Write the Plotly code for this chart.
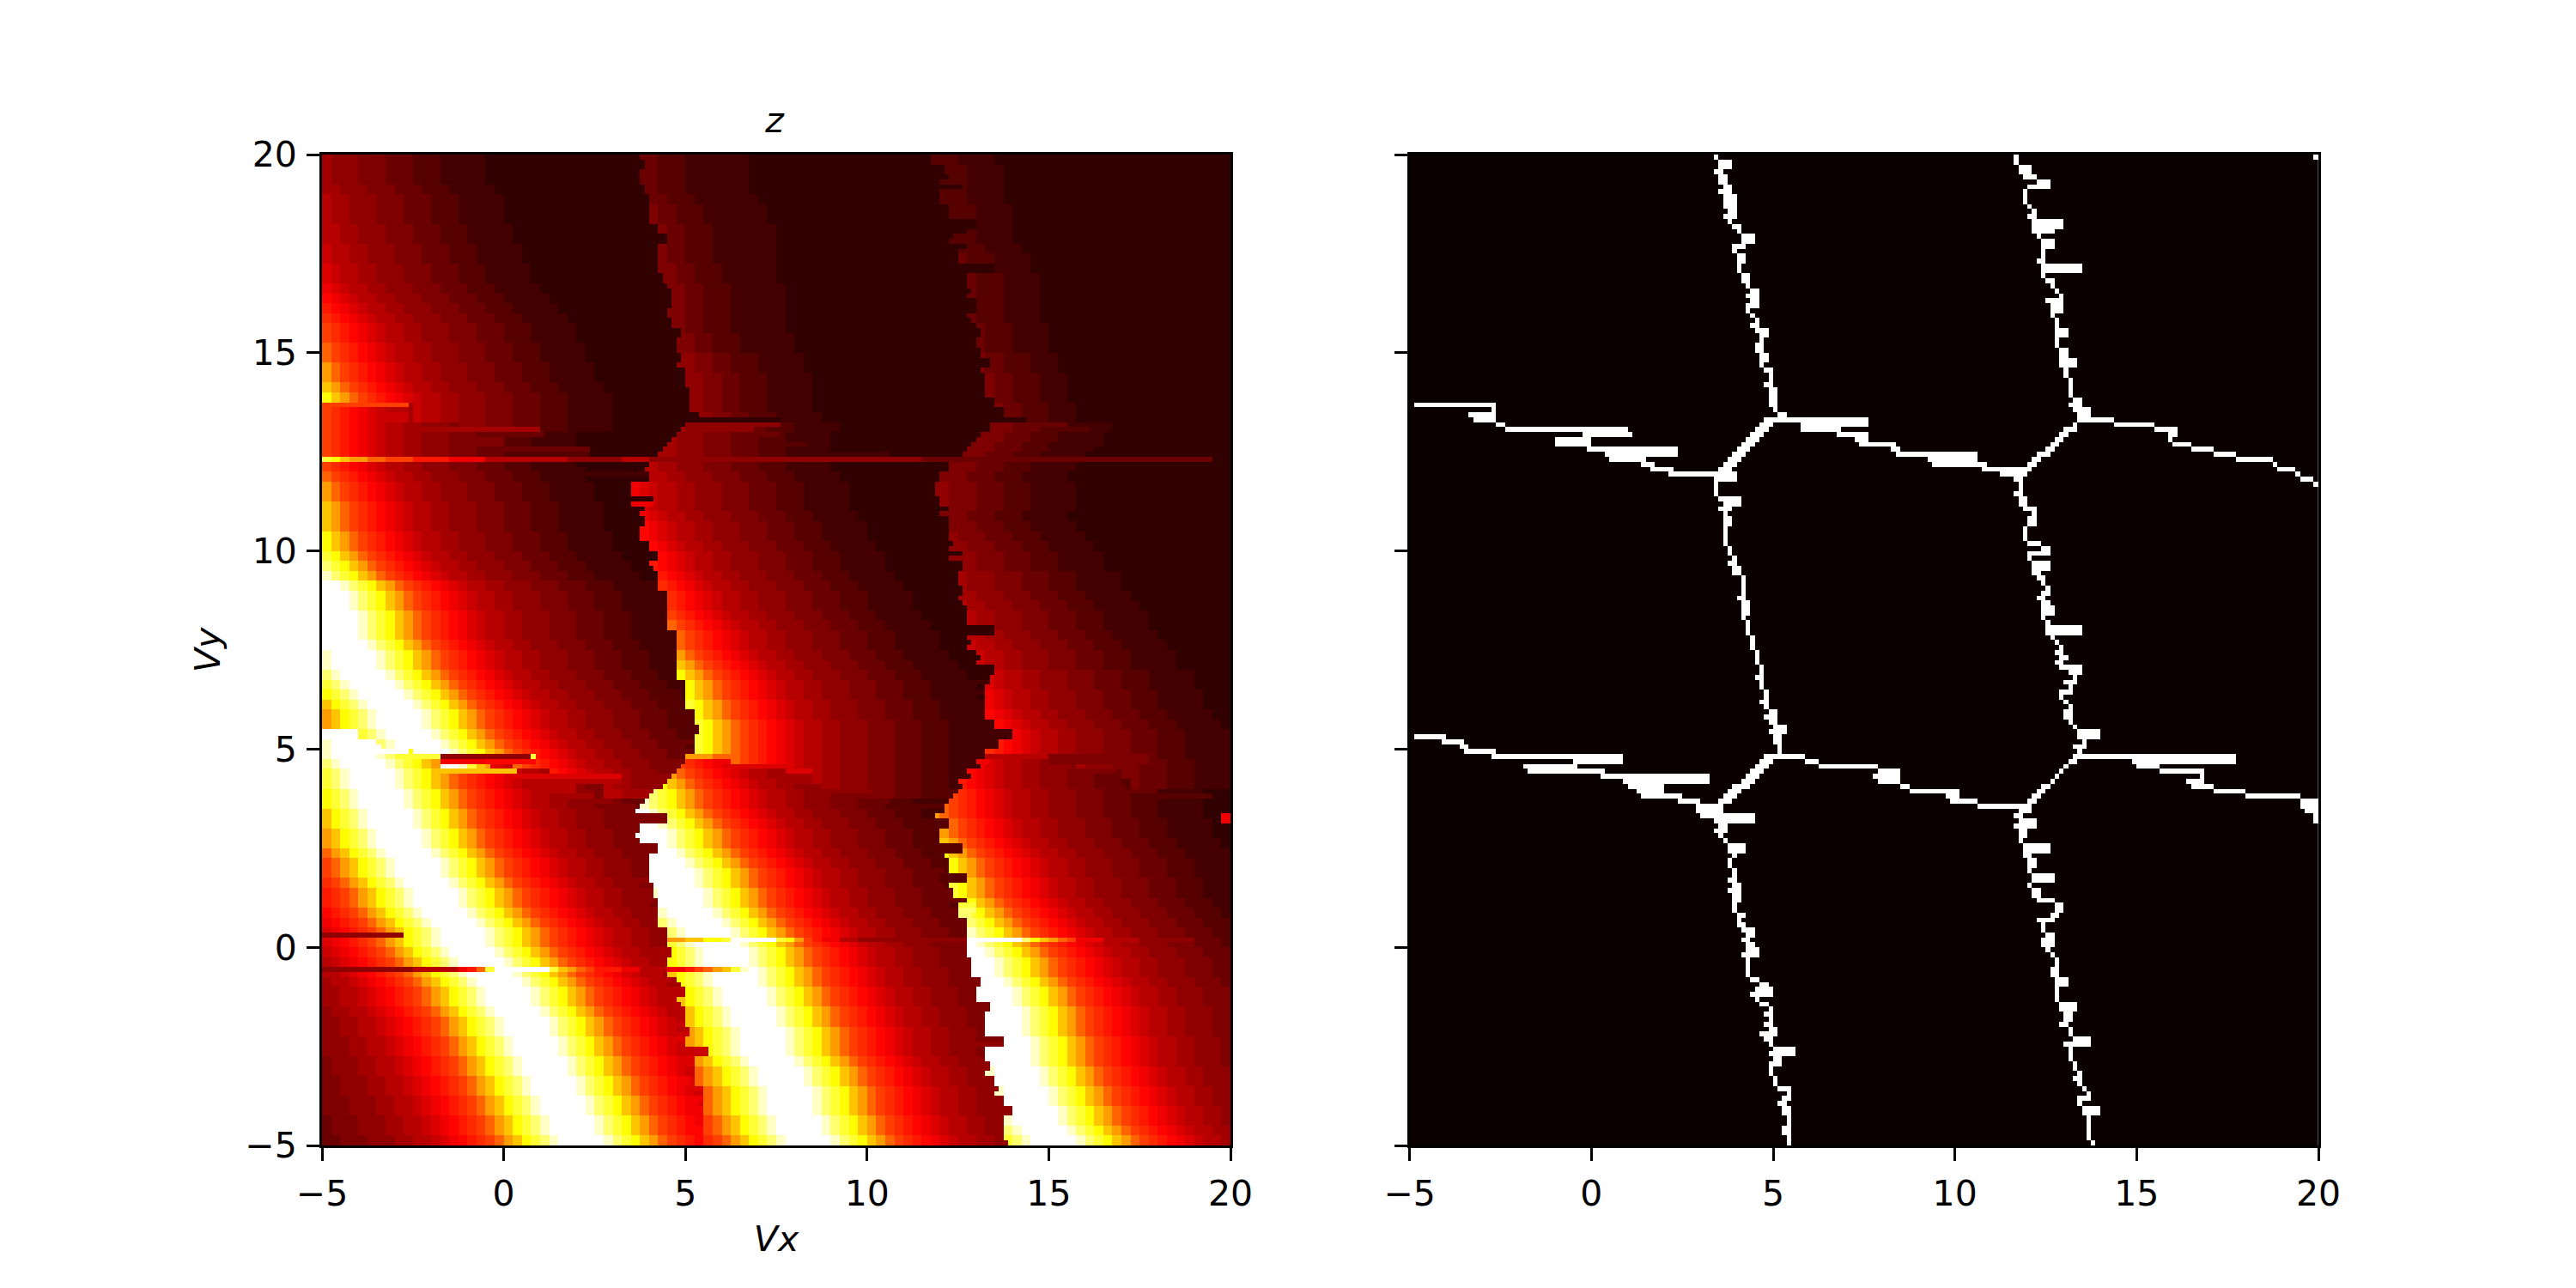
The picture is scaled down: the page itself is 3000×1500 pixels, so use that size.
import numpy as np
import plotly.graph_objects as go

# Heat map is stored on a 100 x 100 coarse grid of base-36 levels (0 = darkest, z = brightest),
# one row per 0.25 in Vy, top row first. Each row is split into three blocks by two walls.
# A row shorter than its block keeps its last level to the wall.
FIRST_WALL = [35,35,35,35,36,36,36,37,37,37,37,37,37,38,38,38,38,38,39,39,39,39,40,40,40,40,41,
              39,38,37,36,35,35,34,34,34,35,35,35,36,37,36,37,37,38,38,38,38,39,39,39,39,39,40,40,40,41,41,41,41,
              41,39,38,37,36,35,34,34,34,35,36,36,36,36,36,37,37,37,37,38,38,38,38,39,39,39,40,40,40,40,41,41,41,41,42,42,42,42,42,42]
SECOND_WALL = [67,68,68,68,68,69,69,69,69,70,70,70,71,71,71,71,71,72,72,72,72,72,73,73,73,74,74,
               73,72,71,70,69,68,67,67,68,68,69,69,69,69,69,70,70,70,70,71,71,71,71,72,72,73,73,73,73,73,74,74,74,
               73,72,71,70,69,68,67,67,67,68,68,69,69,69,69,70,70,71,71,71,71,71,71,71,72,72,72,73,73,73,73,73,73,74,74,75,75,75,75,75]

LEFT_BLOCK = [
"8777666555444333332","8777666555444333332","8777666555444333332","88777666555444333332",
"988777666555444333332","988777666555444333332","988777666555444333332",
"9988777666555444333332","9988777666555444333332","a9988777666555444333332","a9988777666555444333332",
"ba9988777666555444333332","ba9988777666555444333332","cba9988777666555444333332",
"dcba9988777666555444333332","edcba9988777666555444333332","fedcba9988777666555444333332",
"gfedcba9988777666555444333332","gfedcba9988777666555444333332",
"igfedcba9988777666555444333332","igfedcba9988777666555444333332",
"ligfedcba9988777666555444333332","ligfedcba9988777666555444333332",
"nligfedcba9988777666555444333332","qnligfedcba9988777666555444333332",
"gfedcba998a9988777666555444333332","gfedcba998a9988777666555444333332",
"gfedcba99887776777666555444333332",
"gfedcba9988777666555444333332","gfedcba9988777666555444333332","gfedcba9988777666555444333332",
"gfedcba9988777666555444333332","igfedcba9988777666555444333332",
"ligfedcba9988777666555444333332","ligfedcba9988777666555444333332",
"nligfedcba9988777666555444333332","nligfedcba9988777666555444333332","nligfedcba9988777666555444333332",
"qnligfedcba9988777666555444333332","qnligfedcba9988777666555444333332",
"sqnligfedcba9988777666555444333332","usqnligfedcba9988777666555444333332",
"xusqnligfedcba9988777666555444333332","zzxusqnligfedcba9988777666555444333332",
"zzzxusqnligfedcba9988777666555444333332","zzzxusqnligfedcba9988777666555444333332",
"zzzzxusqnligfedcba9988777666555444333332","zzzzxusqnligfedcba9988777666555444333332",
"zzzzxusqnligfedcba9988777666555444333332","zzzzzxusqnligfedcba9988777666555444333332",
"xzzzzzxusqnligfedcba9988777666555444333332","xzzzzzxusqnligfedcba9988777666555444333332",
"uxzzzzzxusqnligfedcba9988777666555444333332","suxzzzzzxusqnligfedcba9988777666555444333332",
"qsuxzzzzzxusqnligfedcba9988777666555444333332","nqsuxzzzzzxusqnligfedcba9988777666555444333332",
"lnqsuxzzzzzxusqnligfedcba9988777666555444333332","lnqsuxzzzzzxusqnligfedcba9988777666555444333332",
"zzzzsuxzzzzzxusqnligfedcba9988777666555444333332","xzzzzzuxzzzzzxusqnligfedcba9988777666555444333332",
"xzzzzzxusqzzzzxusqnligfedcba9988777666555444333332",
"uxzzzzzxusqnligfedcbaigfedcba9988777666555444333332",
"suxzzzzzxusqnligfedcba998edcba9988777666555444333332",
"suxzzzzzxusqnligfedcba998877766988777666555444333332",
"qsuxzzzzzxusqnligfedcba998877769988777666555444333332",
"qsuxzzzzzxusqnligfedcba9988777666555444333332",
"nqsuxzzzzzxusqnligfedcba9988777666555444333332","nqsuxzzzzzxusqnligfedcba9988777666555444333332",
"lnqsuxzzzzzxusqnligfedcba9988777666555444333332","lnqsuxzzzzzxusqnligfedcba9988777666555444333332",
"ilnqsuxzzzzzxusqnligfedcba9988777666555444333332",
"gilnqsuxzzzzzxusqnligfedcba9988777666555444333332","gilnqsuxzzzzzxusqnligfedcba9988777666555444333332",
"fgilnqsuxzzzzzxusqnligfedcba9988777666555444333332",
"efgilnqsuxzzzzzxusqnligfedcba9988777666555444333332","efgilnqsuxzzzzzxusqnligfedcba9988777666555444333332",
"defgilnqsuxzzzzzxusqnligfedcba99887776665554443",
"cdefgilnqsuxzzzzzxusqnligfedcba99887776665554",
"bcdefgilnqsuxzzzzzxusqnligfedcba998877766655","bcdefgilnqsuxzzzzzxusqnligfedcba998877766655",
"abcdefgilnqsuxzzzzzxusqnligfedcba9988777666",
"9abcdefgilnqsuxzzzzzxusqnligfedcba9988777666",
"99abcdefgilnqsuxzzzzzxusqnligfedcba99887776",
"899abcdefgilnqsuxzzzzzxusqnligfedcba9988777",
"8899abcdefgilnqsuxzzzzzxusqnligfedcba998877","8899abcdefgilnqsuxzzzzzxusqnligfedcba998877",
"78899abcdefgilnqsuxzzzzzxusqnligfedcba99887",
"778899abcdefgilnqsuxzzzzzxusqnligfedcba9988","778899abcdefgilnqsuxzzzzzxusqnligfedcba9988",
"7778899abcdefgilnqsuxzzzzzxusqnligfedcba998","7778899abcdefgilnqsuxzzzzzxusqnligfedcba998",
"67778899abcdefgilnqsuxzzzzzxusqnligfedcba99","67778899abcdefgilnqsuxzzzzzxusqnligfedcba99",
"667778899abcdefgilnqsuxzzzzzxusqnligfedcba9","667778899abcdefgilnqsuxzzzzzxusqnligfedcba9",
"6667778899abcdefgilnqsuxzzzzzxusqnligfedcba","6667778899abcdefgilnqsuxzzzzzxusqnligfedcba",
"56667778899abcdefgilnqsuxzzzzzxusqnligfedcb","56667778899abcdefgilnqsuxzzzzzxusqnligfedcb",
"556667778899abcdefgilnqsuxzzzzzxusqnligfedc",
]

MIDDLE_BLOCK = [
"5544433333332","5544433333332","5544433333332","5544433333332","5544433333332",
"65544433333332","65544433333332","65544433333332","65544433333332","65544433333332","65544433333332",
"66554443333332","66554443333332","66554443333332","66554443333332","66554443333332","66554443333332",
"66554443333332","66554443333332","66554443333332",
"776655444333332","776655444333332","776655444333332","776655444333332","776655444333332","776655444333332","776655444333332",
"8777666555444333332","8777666555444333332","88777666555444333332","988777666555444333332",
"9988777666555444333332","a9988777666555444333332",
"cba9988777666555444333332","cba9988777666555444333332","cba9988777666555444333332","cba9988777666555444333332",
"dcba9988777666555444333332","dcba9988777666555444333332","dcba9988777666555444333332","dcba9988777666555444333332",
"edcba9988777666555444333332","edcba9988777666555444333332",
"fedcba9988777666555444333332","fedcba9988777666555444333332","fedcba9988777666555444333332",
"gfedcba9988777666555444333332",
"igfedcba9988777666555444333332","igfedcba9988777666555444333332","igfedcba9988777666555444333332",
"ligfedcba9988777666555444333332","nligfedcba9988777666555444333332",
"qnligfedcba9988777666555444333332","qnligfedcba9988777666555444333332","qnligfedcba9988777666555444333332",
"sqnligfedcba9988777666555444333332","qnligfedcba9988777666555444333332",
"sqnligfedcba9988777666555444333332","sqnligfedcba9988777666555444333332","sqnligfedcba9988777666555444333332",
"sqnligfedcba9988777666555444333332","gfedcbigfedcba9988777666555444333332","ligfedcba9988ba9988777666555444333332",
"qnligfedcba998877988777666555444333332","usqnligfedcba99887776665666555444333332","xusqnligfedcba9988777666555444333332",
"zzxusqnligfedcba9988777666555444333332","zzzxusqnligfedcba9988777666555444333332",
"zzzzxusqnligfedcba9988777666555444333332","zzzxusqnligfedcba9988777666555444333332",
"zzzxusqnligfedcba9988777666555444333332","zzzzxusqnligfedcba9988777666555444333332",
"zzzzzxusqnligfedcba9988777666555444333332","zzzzzxusqnligfedcba9988777666555444333332",
"xzzzzzxusqnligfedcba9988777666555444333332","zzzzzxusqnligfedcba9988777666555444333332",
"xzzzzzxusqnligfedcba9988777666555444333332","uxzzzzzxusqnligfedcba9988777666555444333332",
"suxzzzzzxusqnligfedcba9988777666555444333332","suxzzzzzxusqnligfedcba9988777666555444333332",
"qsuxzzzzzxusqnligfedcba9988777666555444333332","qsuxzzzzzxusqnligfedcba9988777666555444333332",
"nqsuxzzzzzxusqnligfedcba9988777666555444333332","qsuxzzzzzxusqnligfedcba9988777666555444333332",
"nqsuxzzzzzxusqnligfedcba9988777666555444333332","nqsuxzzzzzxusqnligfedcba9988777666555444333332",
"nqsuxzzzzzxusqnligfedcba9988777666555444333332","nqsuxzzzzzxusqnligfedcba9988777666555444333332",
"lnqsuxzzzzzxusqnligfedcba9988777666555444333332","lnqsuxzzzzzxusqnligfedcba9988777666555444333332",
"nqsuxzzzzzxusqnligfedcba9988777666555444333332","lnqsuxzzzzzxusqnligfedcba9988777666555444333332",
"ilnqsuxzzzzzxusqnligfedcba9988777666555444333332","ilnqsuxzzzzzxusqnligfedcba9988777666555444333332",
"ilnqsuxzzzzzxusqnligfedcba9988777666555444333332","ilnqsuxzzzzzxusqnligfedcba9988777666555444333332",
"ilnqsuxzzzzzxusqnligfedcba9988777666555444333332",
"gilnqsuxzzzzzxusqnligfedcba9988777666555444333332","gilnqsuxzzzzzxusqnligfedcba9988777666555444333332",
"fgilnqsuxzzzzzxusqnligfedcba9988777666555444333332",
]

RIGHT_BLOCK = [
"44433332","44433332","44433332","44433332","44433332","44433332","44433332","44433332","44433332","44433332",
"544433332","544433332","544433332","544433332","544433332","544433332","544433332","544433332","544433332","544433332",
"6554443332","6554443332","6554443332","6554443332","6554443332","6554443332","6554443332",
"666555444333332","666555444333332","666555444333332","666555444333332","666555444333332","666555444333332",
"77666555444333332","77666555444333332","7666555444333332","666555444333332","666555444333332","7666555444333332",
"77666555444333332","777666555444333332","777666555444333332","8777666555444333332","8777666555444333332",
"88777666555444333332","988777666555444333332","988777666555444333332","988777666555444333332",
"9988777666555444333332","a9988777666555444333332","a9988777666555444333332","a9988777666555444333332",
"ba9988777666555444333332","ba9988777666555444333332","cba9988777666555444333332","cba9988777666555444333332",
"dcba9988777666555444333332","dcba9988777666555444333332","edcba9988777666555444333332","edcba9988777666555444333332",
"fedcba9988777666555444333332","cba998877768777666555444333332","dcba998877766655566555444333332","edcba998877766655546555444333332",
"gfedcba9988777666555444333332","igfedcba9988777666555444333332","ligfedcba9988777666555444333332",
"nligfedcba9988777666555444333332","nligfedcba9988777666555444333332","nligfedcba9988777666555444333332",
"qnligfedcba9988777666555444333332","qnligfedcba9988777666555444333332","qnligfedcba9988777666555444333332",
"sqnligfedcba9988777666555444333332","sqnligfedcba9988777666555444333332","sqnligfedcba9988777666555444333332",
"usqnligfedcba9988777666555444333332","usqnligfedcba9988777666555444333332","xusqnligfedcba9988777666555444333332",
"zxusqnligfedcba9988777666555444333332","zzxusqnligfedcba9988777666555444333332",
"zzzxusqnligfedcba9988777666555444333332","zzzxusqnligfedcba9988777666555444333332",
"zzzzxusqnligfedcba9988777666555444333332","zzzzxusqnligfedcba9988777666555444333332","zzzzxusqnligfedcba9988777666555444333332",
"zzzzzxusqnligfedcba9988777666555444333332","zzzzxusqnligfedcba9988777666555444333332","zzzzxusqnligfedcba9988777666555444333332",
"zzzzzxusqnligfedcba9988777666555444333332","zzzzzxusqnligfedcba9988777666555444333332","zzzzzxusqnligfedcba9988777666555444333332",
"xzzzzzxusqnligfedcba9988777666555444333332","zzzzzxusqnligfedcba9988777666555444333332",
"xzzzzzxusqnligfedcba9988777666555444333332","zzzzzxusqnligfedcba9988777666555444333332",
"xzzzzzxusqnligfedcba9988777666555444333332","xzzzzzxusqnligfedcba9988777666555444333332",
"uxzzzzzxusqnligfedcba9988777666555444333332","suxzzzzzxusqnligfedcba9988777666555444333332",
]

# One-row streaks on the 200-row grid: (row, coarse column, levels)
STREAKS = [
    (61, 0, "sqnlliigggeeeecccc99999999977777799977777777777777777777777777777755555555555555555555555555555555"),
    (121, 13, "7777777777"),
    (121, 40, "llliii"),
    (121, 73, "999999966666666666"),
    (122, 13, "ccccc"),
    (122, 80, "66666666666"),
    (123, 13, "zzxsn"),
    (133, 99, "c"),
    (134, 99, "c"),
    (157, 0, "777777777"),
    (158, 38, "llnnqqszzzzzsqlgecc99777777777777zzzzzzuqnligccc999977777755"),
    (164, 0, "77777777779999 9ceiszzzzzzsnligeeecc999ccegilnsxz".replace(" ", "")),
]

# Boundary cells on the 200 x 200 grid: (first row, last row, first column, last column)
BOUNDARY_SPANS = [
    # first ridge, upper part
    (0,0,67,67),(1,2,68,70),(3,3,67,68),(4,5,68,69),(6,6,69,70),(7,7,68,70),(8,10,69,71),(11,11,70,71),(12,12,69,71),
    (13,13,70,70),(14,14,71,72),(15,15,72,72),(16,17,73,75),(18,18,71,73),(19,19,71,71),(20,21,72,73),(22,23,72,72),
    (24,25,73,74),(26,26,74,74),(27,27,75,76),(28,28,74,76),(29,29,75,76),(30,30,74,76),(31,31,74,74),(32,32,75,75),
    (33,33,76,76),(34,34,75,76),(35,35,76,78),(36,36,77,78),(37,37,77,77),(38,39,76,77),(40,41,77,78),(42,42,77,77),
    (43,43,78,79),(44,45,79,79),(46,46,78,79),(47,50,79,80),(51,51,80,80),(52,52,81,82),(53,53,78,85),(54,54,77,79),
    (55,55,76,78),(56,56,75,77),(57,57,74,76),(58,58,73,75),(59,59,72,74),(60,60,71,73),(61,61,70,72),(62,62,69,71),
    (63,63,68,70),(64,64,57,71),(65,65,67,71),(66,68,67,67),(69,69,68,72),(70,70,69,72),(71,71,68,70),(72,72,69,69),
    (73,74,69,70),(75,78,69,69),(79,80,70,70),(81,81,71,71),(82,82,70,71),(83,84,71,72),(85,88,73,73),(89,89,72,73),
    (90,92,73,74),(93,93,73,73),(94,96,74,74),(97,99,75,75),(100,102,76,76),(103,104,77,77),(105,105,76,77),
    (106,107,77,77),(108,109,78,78),(110,110,77,78),(111,111,78,78),(112,112,79,80),(113,113,78,80),(114,114,79,80),
    (115,115,80,82),(116,116,79,82),(117,118,80,81),(119,120,81,81),(121,121,78,86),(122,122,77,79),(123,123,76,78),
    (124,124,75,77),(125,125,74,76),(126,126,73,75),(127,127,71,74),(128,128,70,72),(129,129,69,71),(130,130,68,70),
    # first ridge, lower part
    (131,132,63,68),(133,133,64,75),(134,134,67,75),(135,135,68,69),(136,136,67,69),(137,137,68,68),(138,138,69,69),
    (139,140,70,73),(141,141,71,71),(142,143,70,70),(144,145,71,71),(146,146,70,71),(147,147,71,72),(148,148,70,72),
    (149,150,71,72),(151,152,71,71),(153,153,72,73),(154,154,72,72),(155,155,72,73),(156,156,73,75),(157,157,74,75),
    (158,158,73,74),(159,159,74,75),(160,160,74,76),(161,161,73,76),(162,165,74,74),(166,166,75,76),(167,167,77,78),
    (168,168,76,79),(169,169,75,79),(170,170,76,76),(171,171,77,78),(172,172,79,79),(173,173,78,79),(174,174,79,79),
    (175,175,78,79),(176,176,79,80),(177,177,77,80),(178,178,78,79),(179,179,79,79),(180,180,80,84),(181,181,79,84),
    (182,182,80,81),(183,183,79,81),(184,185,79,79),(186,187,80,80),(188,188,81,83),(189,189,83,83),(190,190,82,83),
    (191,191,81,82),(192,193,82,83),(194,195,83,83),(196,197,82,83),(198,199,83,83),
    # second ridge, upper part
    (0,1,133,133),(2,3,134,136),(4,4,135,137),(5,5,138,140),(6,6,136,140),(7,9,135,135),(10,10,136,136),(11,11,137,137),
    (12,12,136,137),(13,14,137,143),(15,15,137,141),(16,16,138,138),(17,18,139,141),(19,20,139,139),(21,21,138,139),
    (22,23,139,147),(24,24,139,139),(25,25,140,141),(26,26,141,141),(27,27,142,142),(28,28,143,143),(29,29,140,143),
    (30,31,141,143),(32,32,141,141),(33,34,142,142),(35,36,142,144),(37,38,142,142),(39,40,143,144),(41,42,143,146),
    (43,44,144,144),(45,48,145,145),(49,49,146,147),(50,50,145,147),(51,51,146,149),(52,52,147,149),(53,53,147,154),
    (54,54,146,146),(55,55,144,146),(56,56,143,144),(57,57,142,143),(58,58,141,142),(59,59,140,141),(60,60,138,140),
    (61,61,137,138),(62,62,136,137),(63,63,129,136),(64,64,130,135),(65,65,133,134),(66,67,134,134),(68,68,133,134),
    (69,70,134,135),(71,71,135,137),(72,72,137,137),(73,74,136,137),(75,77,135,135),(78,78,136,138),(79,79,139,140),
    (80,80,136,140),(81,81,136,136),(82,83,137,140),(84,84,137,138),(85,85,138,139),(86,86,139,139),(87,87,140,140),
    (88,88,139,140),(89,89,138,139),(90,90,139,140),(91,92,139,141),(93,93,139,139),(94,94,140,140),(95,96,140,147),
    (97,97,141,141),(98,98,142,142),(99,99,143,143),(100,100,142,143),
    # second ridge, lower part
    (101,101,143,144),(102,102,142,143),(103,103,143,147),(104,104,145,147),(105,105,146,146),(106,106,144,146),
    (107,107,145,145),(108,108,143,145),(109,109,143,143),(110,110,144,144),(111,111,145,145),(112,113,144,145),
    (114,114,145,145),(115,115,146,146),(116,117,147,151),(118,118,148,148),(119,119,146,148),(120,120,147,147),
    (121,121,146,181),(122,122,145,146),(123,123,144,144),(124,124,143,143),(125,125,142,142),(126,126,141,141),
    (127,127,139,140),(128,128,138,139),(129,129,137,138),(130,130,136,137),(131,131,125,136),(132,132,134,136),
    (133,133,133,134),(134,134,134,137),(135,135,133,137),(136,137,134,135),(138,138,134,134),(139,140,135,140),
    (141,141,135,136),(142,143,136,137),(144,144,136,136),(145,146,137,141),(147,147,136,136),(148,149,137,138),
    (150,150,138,141),(151,152,142,143),(153,153,141,142),(154,154,138,141),(155,156,139,139),(157,157,140,141),
    (158,159,139,141),(160,160,140,140),(161,161,141,141),(162,163,142,142),(164,165,141,142),(166,167,142,144),
    (168,170,142,142),(171,172,143,146),(173,174,144,145),(175,175,143,144),(176,177,145,145),(178,178,146,149),
    (179,179,144,149),(180,182,145,145),(183,184,146,146),(185,185,147,147),(186,186,146,147),(187,187,147,147),
    (188,188,148,148),(189,189,149,149),(190,190,147,149),(191,191,147,147),(192,193,148,151),(194,198,149,149),
    (199,199,150,150),
    # upper crossing line
    (50,50,1,18),(51,51,18,18),(52,52,13,18),(53,53,14,18),(54,54,19,20),(55,55,21,47),(56,56,38,48),(57,58,32,39),
    (59,59,39,58),(60,60,43,58),(61,61,44,51),(62,62,51,53),(63,63,53,57),
    (53,54,86,100),(55,55,86,94),(56,56,94,100),(57,57,98,100),(58,58,99,106),(59,59,106,107),(60,60,107,124),
    (61,61,114,124),(62,62,115,126),(63,63,126,128),
    (54,54,155,163),(55,55,164,168),(56,56,167,168),(57,57,167,167),(58,58,168,171),(59,59,172,176),(60,60,177,181),
    (61,61,182,189),(62,62,190,190),(63,63,191,194),(64,64,195,195),(65,65,196,198),(66,66,199,199),(0,0,199,199),
    # lower crossing line
    (117,117,1,7),(118,118,7,11),(119,119,11,12),(120,120,12,18),(121,121,18,46),(122,122,36,46),(123,123,25,36),
    (124,124,26,42),(125,125,42,65),(126,126,47,65),(127,127,48,55),(128,128,50,55),(129,129,51,59),(130,130,59,63),
    (122,122,87,89),(123,123,90,102),(124,124,103,107),(125,125,102,107),(126,126,103,107),(127,127,108,109),
    (128,128,110,120),(129,129,118,120),(130,130,119,124),(131,131,125,125),
    (122,122,159,181),(123,123,160,164),(124,124,165,174),(125,125,174,174),(126,126,171,174),(127,127,172,176),
    (128,128,177,183),(129,129,184,195),(130,131,196,199),(132,132,197,199),(133,134,199,199),
]

TICKS = [-5, 0, 5, 10, 15, 20]
DEEP_HEAT = [[0, "#0b0000"], [0.365, "#ff0000"], [0.746, "#ffff00"], [1, "#ffffff"]]

# Assemble the coarse grid from its three blocks, then double it to the fine grid.
coarse = np.zeros((100, 100), dtype=float)
for r in range(100):
    wa, wb = FIRST_WALL[r], SECOND_WALL[r]
    parts = [(LEFT_BLOCK[r], wa), (MIDDLE_BLOCK[r], wb - wa), (RIGHT_BLOCK[r], 100 - wb)]
    text = "".join((s + s[-1] * w)[:w] for s, w in parts)
    coarse[r] = [int(ch, 36) for ch in text]

signal = np.repeat(np.repeat(coarse, 2, axis=0), 2, axis=1)
boundary = np.zeros((200, 200))
for r0, r1, c0, c1 in BOUNDARY_SPANS:
    boundary[r0:r1 + 1, c0:c1 + 1] = 1
    for r in range(r0, r1 + 1):
        signal[r, c0:c1 + 1] = signal[r, max(c0 - 1, 0)]

for row, col, levels in STREAKS:
    vals = np.repeat([int(ch, 36) for ch in levels], 2)
    signal[row, 2 * col:2 * col + len(vals)] = vals[:200 - 2 * col]

vx = -5 + (np.arange(200) + 0.5) / 8
vy = 20 - (np.arange(200) + 0.5) / 8

fig = go.Figure()
fig.add_trace(go.Heatmap(x=vx, y=vy, z=signal, zmin=0, zmax=35, colorscale=DEEP_HEAT,
                         showscale=False, xaxis="x", yaxis="y"))
fig.add_trace(go.Heatmap(x=vx, y=vy, z=boundary, zmin=0, zmax=1, colorscale=DEEP_HEAT,
                         showscale=False, xaxis="x2", yaxis="y2"))

axis_style = dict(range=[-5, 20], tickmode="array", tickvals=TICKS, ticks="outside", ticklen=15, tickwidth=3,
                  tickcolor="black", showline=True, linewidth=3, linecolor="black", mirror=True,
                  showgrid=False, zeroline=False, automargin=False, ticklabelstandoff=3,
                  tickfont=dict(family="DejaVu Sans", size=41, color="black"))
title_font = dict(family="DejaVu Sans", size=41, color="black")

fig.update_layout(
    width=3000, height=1500, margin=dict(l=0, r=0, t=0, b=0),
    paper_bgcolor="white", plot_bgcolor="white", showlegend=False,
    title=dict(text="<i>z</i>", x=902 / 3000, xanchor="center", y=1 - 140 / 1500, yanchor="middle", font=title_font),
    xaxis=dict(domain=[375 / 3000, 1433 / 3000], anchor="y",
               title=dict(text="<i>Vx</i>", font=title_font, standoff=16), **axis_style),
    yaxis=dict(domain=[166 / 1500, 1320 / 1500], anchor="x",
               title=dict(text="<i>Vy</i>", font=title_font, standoff=16), **axis_style),
    xaxis2=dict(domain=[1641.7 / 3000, 2700 / 3000], anchor="y2", **axis_style),
    yaxis2=dict(domain=[166 / 1500, 1320 / 1500], anchor="x2", showticklabels=False, **axis_style),
)

fig.write_html("out.html")
